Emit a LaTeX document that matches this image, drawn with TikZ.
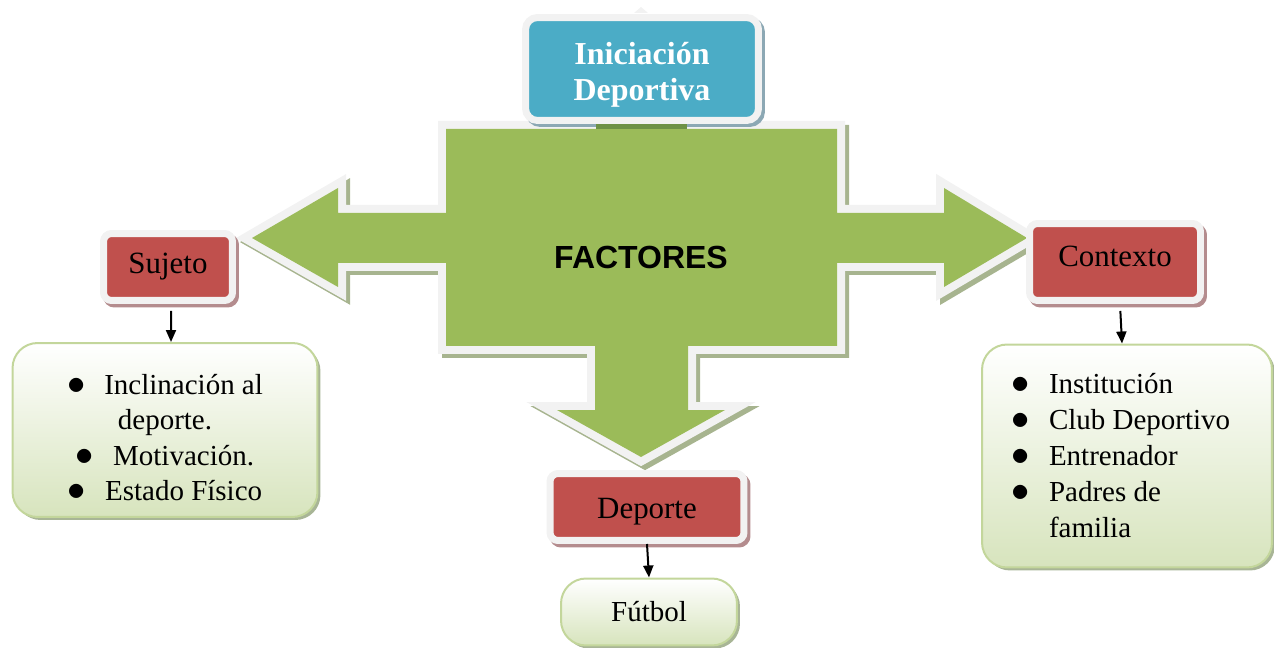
\documentclass[tikz,border=0pt]{standalone}
\usepackage{fontspec}
\usepackage{graphicx}
\setmainfont{Liberation Serif}
\newfontfamily\arialfont{Liberation Sans}
\usetikzlibrary{arrows.meta}

\definecolor{verde}{RGB}{155,187,89}
\definecolor{verdeosc}{RGB}{110,145,70}
\definecolor{sombraverde}{RGB}{167,180,143}
\definecolor{blanco}{RGB}{242,242,242}
\definecolor{rojo}{RGB}{192,80,77}
\definecolor{sombraroja}{RGB}{180,140,142}
\definecolor{azul}{RGB}{75,172,198}
\definecolor{sombraazul}{RGB}{140,168,180}
\definecolor{verdeclaro}{RGB}{215,228,189}
\definecolor{bordeverde}{RGB}{195,214,155}
\definecolor{sombralista}{RGB}{168,181,150}

\newcommand{\vineta}{\scalebox{1.2}{$\bullet$}}

\begin{document}
\begin{tikzpicture}[
                x=0.02cm, y=-0.02cm,
                cajaroja/.style={
                    draw=blanco, fill=rojo, line width=0.14cm, rounded corners=0.16cm,
                    minimum height=1.34cm, font=\fontsize{17.6}{20}\selectfont,
                    preaction={draw=sombraroja, fill=sombraroja, line width=0.14cm,
                        transform canvas={shift={(0.06cm,-0.07cm)}}}
                },
                lista/.style={
                    draw=bordeverde, line width=0.04cm, rounded corners=0.5cm,
                    top color=white, bottom color=verdeclaro,
                    font=\fontsize{16.5}{20}\selectfont,
                    preaction={fill=sombralista, transform canvas={shift={(0.06cm,-0.06cm)}}}
                },
                flecha/.style={
                    -{Triangle[width=0.2cm, length=0.24cm]}, line width=0.04cm
                }
            ]
            \useasboundingbox (0,0) rectangle (1274,648);

            % flecha verde
            \path[fill=verde, line join=miter,
                preaction={draw=sombraverde, fill=sombraverde, line width=0.32cm,
                    transform canvas={shift={(0.08cm,-0.08cm)}}},
                preaction={draw=blanco, line width=0.32cm}]
                (446,129) -- (837,129) -- (837,213) -- (944,213) -- (944,188)
                -- (1027,238) -- (944,287) -- (944,263) -- (837,263) -- (837,346)
                -- (688,346) -- (688,410) -- (725,410) -- (641,457) -- (557,410)
                -- (595,410) -- (595,346) -- (446,346) -- (446,263) -- (338,263)
                -- (338,287) -- (252,238) -- (338,188) -- (338,213) -- (446,213) -- cycle;

            \fill[blanco] (634,13) -- (641,7) -- (648,13) -- cycle;
            \node[draw=blanco, fill=azul, line width=0.14cm, rounded corners=0.24cm,
                minimum width=4.66cm, minimum height=2.06cm, align=center, text=white,
                font=\bfseries\fontsize{18.2}{20.5}\selectfont,
                preaction={draw=sombraazul, fill=sombraazul, line width=0.14cm,
                    transform canvas={shift={(0.06cm,-0.06cm)}}}]
                (iniciacion) at (642,69) {\rule{0pt}{19pt}Iniciación\\Deportiva};
            \fill[verdeosc] (596,124) rectangle (687,129);

            \node[font=\arialfont\bfseries\fontsize{18.2}{20}\selectfont] (factores) at (641,257) {FACTORES};

            % nodes
            \node[cajaroja, minimum width=2.58cm] (sujeto) at (168,267) {Sujeto};
            \node[cajaroja, minimum width=3.42cm, minimum height=1.54cm] (contexto) at (1115,262) {Contexto\rule[-7pt]{0pt}{1pt}};
            \node[cajaroja, minimum width=3.88cm] (deporte) at (647,507) {\rule{0pt}{17pt}Deporte};

            \node[lista, minimum width=6.1cm, minimum height=3.48cm, align=center] (listasujeto) at (165,430)
                {\rule{0pt}{20pt}\vineta\hspace{0.38cm}Inclinación al\\deporte.\\\vineta\hspace{0.38cm}Motivación.\\\vineta\hspace{0.38cm}Estado Físico};
            \node[lista, minimum width=5.8cm, minimum height=4.46cm, font=\fontsize{16.5}{20.5}\selectfont] (listacontexto) at (1127,456)
                {\begin{tabular}{@{}l@{\hspace{0.38cm}}l@{}}
                    \rule{0pt}{17pt}\vineta & Institución\\
                    \vineta & Club Deportivo\\
                    \vineta & Entrenador\\
                    \vineta & Padres de\\
                            & familia
                \end{tabular}\rule{0.24cm}{0pt}};
            \node[lista, minimum width=3.52cm, minimum height=1.34cm] (futbol) at (649,612) {Fútbol};

            \draw[flecha, shorten <=0.14cm] ([xshift=0.06cm]sujeto.south) -- ([xshift=0.12cm]listasujeto.north);
            \draw[flecha, shorten <=0.14cm] ([xshift=0.1cm]contexto.south) -- ([xshift=-0.1cm]listacontexto.north);
            \draw[flecha] (deporte.south) -- (futbol.north);
\end{tikzpicture}
\end{document}
